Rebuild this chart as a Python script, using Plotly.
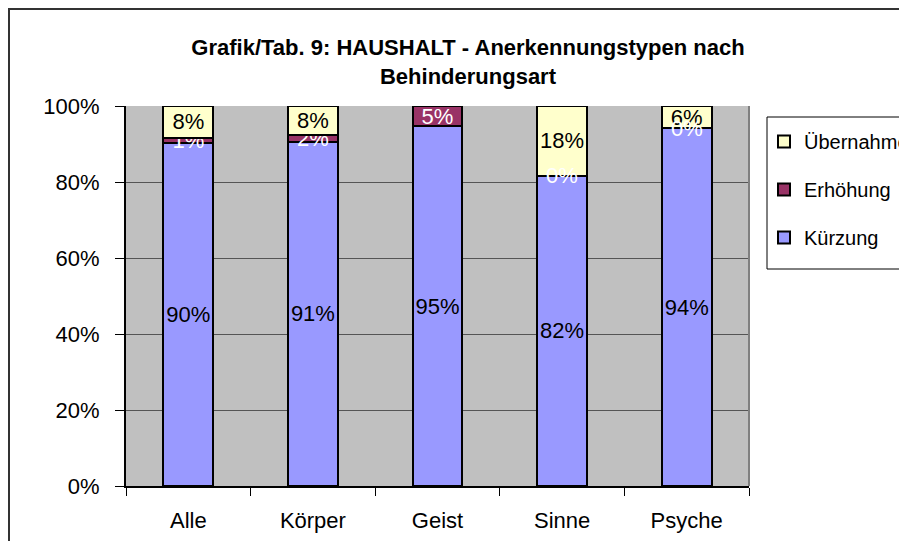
import plotly.graph_objects as go

categories = ["Alle", "Körper", "Geist", "Sinne", "Psyche"]
kuerzung = [90.3, 90.6, 94.7, 81.6, 94.2]
erhoehung = [1.4, 1.8, 5.3, 0.0, 0.0]
uebernahme = [8.3, 7.6, 0.0, 18.4, 5.8]

kuerzung_labels = ["90%", "91%", "95%", "82%", "94%"]
erhoehung_labels = ["1%", "2%", "5%", "0%", "0%"]
uebernahme_labels = ["8%", "8%", "", "18%", "6%"]

y_ticks = [0, 20, 40, 60, 80, 100]
y_tick_labels = [f"{v}%" for v in y_ticks]

FONT = "Liberation Sans, Arial, sans-serif"
OFF = 8  # page body margin
W, H = 907 - OFF, 541 - OFF
ML, MT = 126 - OFF, 106 - OFF
MR = W - (749 - OFF)
MB = H - (486 - OFF)
PW = W - ML - MR
PH = H - MT - MB


def px_x(px):
    return (px - OFF - ML) / PW


def px_y(py):
    return (H - MB - (py - OFF)) / PH


fig = go.Figure()

series = [
    ("Kürzung", kuerzung, kuerzung_labels, "#9999FF", "black", 3),
    ("Erhöhung", erhoehung, erhoehung_labels, "#993366", "white", 2),
    ("Übernahme", uebernahme, uebernahme_labels, "#FFFFCC", "black", 1),
]

for name, vals, labels, color, tcolor, rank in series:
    fig.add_trace(go.Bar(
        x=categories, y=vals, name=name,
        legendgroup=name,
        legendrank=rank,
        marker=dict(color=color, line=dict(color="black", width=2)),
        width=0.4,
        text=labels,
        textposition="inside",
        insidetextanchor="middle",
        textangle=0,
        constraintext="none",
        cliponaxis=False,
        textfont=dict(family=FONT, size=22, color=tcolor),
        hoverinfo="skip",
    ))

# labels of zero-height segments (drawn at the segment boundary)
annotations = []
for cat, k, e, lab in zip(categories, kuerzung, erhoehung, erhoehung_labels):
    if e == 0:
        annotations.append(dict(
            x=cat, y=k + e / 2, xref="x", yref="y",
            text=lab, showarrow=False,
            font=dict(family=FONT, size=22, color="white"),
            xanchor="center", yanchor="middle",
        ))

fig.update_layout(
    width=W, height=H,
    barmode="stack",
    paper_bgcolor="white",
    plot_bgcolor="#C0C0C0",
    margin=dict(l=ML, r=MR, t=MT, b=MB, autoexpand=False),
    font=dict(family=FONT, size=20, color="black"),
    title=dict(
        text="<b>Grafik/Tab. 9: HAUSHALT - Anerkennungstypen nach<br>Behinderungsart</b>",
        font=dict(family=FONT, size=22, color="black"),
        x=px_x(468), xref="paper", xanchor="center",
        y=1 - (55 - OFF) / H, yref="container", yanchor="middle",
    ),
    legend=dict(
        x=px_x(764), y=px_y(122), xanchor="left", yanchor="top",
        bgcolor="rgba(0,0,0,0)", borderwidth=0,
        font=dict(family=FONT, size=20, color="black"),
        traceorder="grouped",
        tracegroupgap=19,
    ),
    xaxis=dict(
        type="category",
        showgrid=False,
        showline=True, linecolor="black", linewidth=2,
        ticks="outside", ticklen=8, tickcolor="black", tickwidth=1,
        tickson="boundaries",
        tickfont=dict(family=FONT, size=22),
        ticklabelstandoff=14,
    ),
    yaxis=dict(
        range=[0, 100],
        tickmode="array",
        tickvals=y_ticks,
        ticktext=y_tick_labels,
        showgrid=True, gridcolor="#555555", gridwidth=1,
        showline=True, linecolor="black", linewidth=2,
        ticks="outside", ticklen=9, tickcolor="black", tickwidth=1,
        tickfont=dict(family=FONT, size=22),
        ticklabelstandoff=11,
        zeroline=False,
    ),
    annotations=annotations,
    shapes=[
        dict(type="rect", xref="paper", yref="paper", layer="below",
             x0=px_x(767), y0=px_y(117), x1=px_x(1100), y1=px_y(269),
             line=dict(color="black", width=1), fillcolor="white"),
        dict(type="rect", xref="paper", yref="paper",
             x0=px_x(9), y0=px_y(9), x1=px_x(1100), y1=px_y(800),
             line=dict(color="#333333", width=2), fillcolor="rgba(0,0,0,0)"),
        dict(type="line", xref="paper", yref="paper",
             x0=1, x1=1, y0=0, y1=1,
             line=dict(color="#808080", width=2)),
    ],
)

fig.write_html("out.html")
